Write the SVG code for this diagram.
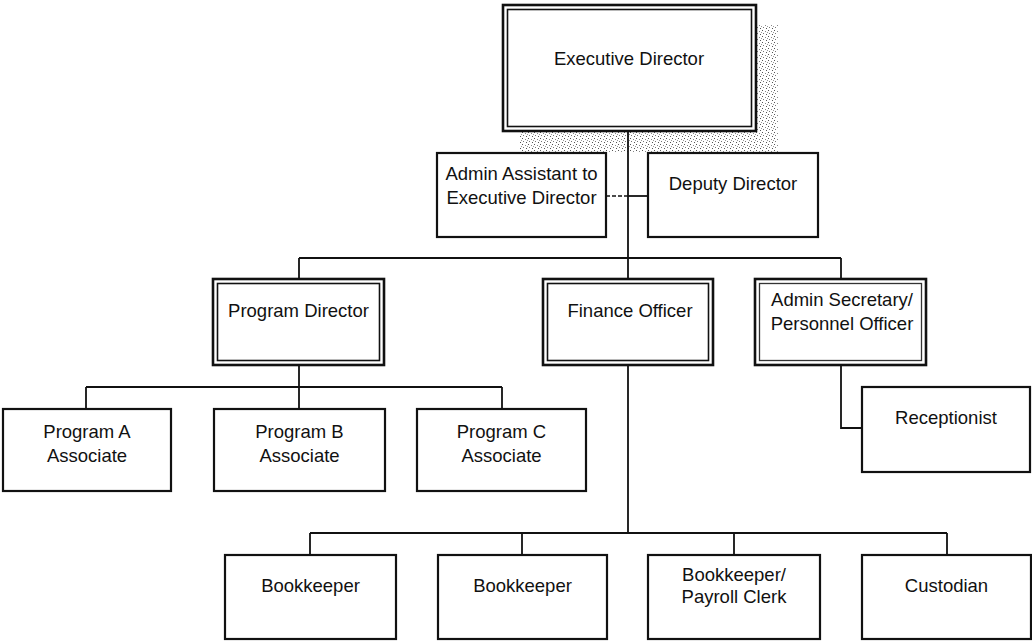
<svg xmlns="http://www.w3.org/2000/svg" width="1032" height="642" viewBox="0 0 1032 642">
<defs>
<pattern id="stipple" width="6" height="6" patternUnits="userSpaceOnUse">
<rect x="0" y="0" width="1" height="1" fill="#555"/>
<rect x="3" y="1" width="1" height="1" fill="#888"/>
<rect x="1" y="3" width="1" height="1" fill="#777"/>
<rect x="4" y="4" width="1" height="1" fill="#555"/>
<rect x="5" y="2" width="1" height="1" fill="#999"/>
</pattern>
</defs>
<style>
.box{fill:#fff;stroke:#111;stroke-width:2.2}
.outer{fill:#fff;stroke:#111;stroke-width:2.6}
.inner{fill:none;stroke:#111;stroke-width:1.6}
.inner2{fill:none;stroke:#333;stroke-width:1.3}
.t{font-family:"Liberation Sans",Arial,sans-serif;font-size:18.5px;fill:#111;text-anchor:middle}
.c{fill:none;stroke:#111;stroke-width:1.8}
.d{fill:none;stroke:#111;stroke-width:1.6;stroke-dasharray:4 2}
</style>
<rect x="0" y="0" width="1032" height="642" fill="#fff"/>
<rect x="520" y="25" width="258" height="127" fill="url(#stipple)"/>
<g id="connectors">
<path class="c" d="M628 131V258M299 258H841M299 258V279M628 258V279M841 258V279"/>
<path class="d" d="M606 196H628"/>
<path class="c" d="M628 196H648"/>
<path class="c" d="M299 365V387M86 387H502M86 387V409M299 387V409M502 387V409"/>
<path class="c" d="M628 365V533M310 533H947M310 533V555M522 533V555M734 533V555M947 533V555"/>
<path class="c" d="M841 365V428H862"/>
</g>
<g id="exec">
<rect class="outer" x="503" y="5" width="253" height="126"/>
<rect class="inner" x="507.5" y="9.5" width="244" height="117"/>
<text class="t" x="629" y="64.5">Executive Director</text>
</g>
<g id="adminAssistant">
<rect class="box" x="437" y="153" width="169" height="84"/>
<text class="t" x="521.5" y="179.5">Admin Assistant to</text>
<text class="t" x="521.5" y="203.5">Executive Director</text>
</g>
<g id="deputy">
<rect class="box" x="648" y="153" width="170" height="84"/>
<text class="t" x="733" y="189.5">Deputy Director</text>
</g>
<g id="programDirector">
<rect class="outer" x="213" y="279" width="171" height="86"/>
<rect class="inner" x="217.5" y="283.5" width="162" height="77"/>
<text class="t" x="298.5" y="316.5">Program Director</text>
</g>
<g id="financeOfficer">
<rect class="outer" x="543" y="279" width="170" height="86"/>
<rect class="inner" x="547.5" y="283.5" width="161" height="77"/>
<text class="t" x="630" y="316.5">Finance Officer</text>
</g>
<g id="adminSecretary">
<rect class="outer" x="755" y="279" width="171" height="86"/>
<rect class="inner2" x="759.5" y="283.5" width="162" height="77"/>
<text class="t" x="842" y="305.5">Admin Secretary/</text>
<text class="t" x="842" y="329.5">Personnel Officer</text>
</g>
<g id="receptionist">
<rect class="box" x="862" y="387" width="168" height="85"/>
<text class="t" x="946" y="423.5">Receptionist</text>
</g>
<g id="programA">
<rect class="box" x="3" y="409" width="168" height="82"/>
<text class="t" x="87" y="437.5">Program A</text>
<text class="t" x="87" y="461.5">Associate</text>
</g>
<g id="programB">
<rect class="box" x="214" y="409" width="171" height="82"/>
<text class="t" x="299.5" y="437.5">Program B</text>
<text class="t" x="299.5" y="461.5">Associate</text>
</g>
<g id="programC">
<rect class="box" x="417" y="409" width="169" height="82"/>
<text class="t" x="501.5" y="437.5">Program C</text>
<text class="t" x="501.5" y="461.5">Associate</text>
</g>
<g id="bookkeeper1">
<rect class="box" x="225" y="555" width="171" height="84"/>
<text class="t" x="310.5" y="591.5">Bookkeeper</text>
</g>
<g id="bookkeeper2">
<rect class="box" x="438" y="555" width="169" height="84"/>
<text class="t" x="522.5" y="591.5">Bookkeeper</text>
</g>
<g id="bookkeeperPayroll">
<rect class="box" x="648" y="555" width="172" height="84"/>
<text class="t" x="734" y="580.5">Bookkeeper/</text>
<text class="t" x="734" y="602.5">Payroll Clerk</text>
</g>
<g id="custodian">
<rect class="box" x="862" y="555" width="169" height="84"/>
<text class="t" x="946.5" y="591.5">Custodian</text>
</g>
</svg>
